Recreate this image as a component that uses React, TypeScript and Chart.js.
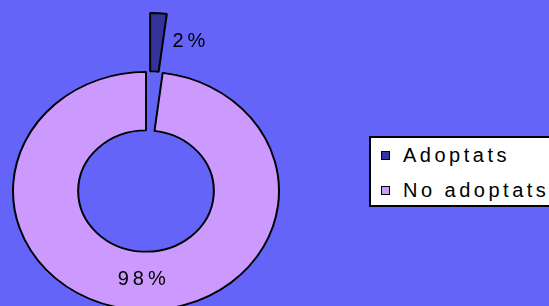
import React, { useEffect, useRef } from "react";
import { Chart, ArcElement, registerables } from "chart.js";

Chart.register(...registerables);

const categories = ["Adoptats", "No adoptats"];
const values = [2, 98];
const colors = ["#333399", "#CC99FF"];
const explode = [66, 0];

const BG = "#6464F8";
const FONT = '"Liberation Sans", Arial, sans-serif';
const SCALE_Y = 0.895;

// Explode a slice by moving it bodily along its mid angle (Excel style),
// instead of Chart.js' default quarter-offset + radius growth.
const baseArcDraw = (ArcElement.prototype as any).draw;
if (!(ArcElement.prototype as any).__exploded) {
  (ArcElement.prototype as any).__exploded = true;
  (ArcElement.prototype as any).draw = function (ctx: CanvasRenderingContext2D) {
    const o = this.options;
    const off = (o && o.offset) || 0;
    if (!off) return baseArcDraw.call(this, ctx);
    const half = (this.startAngle + this.endAngle) / 2;
    ctx.save();
    ctx.translate(Math.cos(half) * off, Math.sin(half) * off);
    this.options = Object.assign({}, o, { offset: 0 });
    try {
      baseArcDraw.call(this, ctx);
    } finally {
      this.options = o;
      ctx.restore();
    }
  };
}

export default function App() {
  const ref = useRef<HTMLCanvasElement>(null);

  useEffect(() => {
    const canvas = ref.current!;
    const squash = {
      id: "squash",
      beforeDatasetsDraw(chart: any) {
        const a = chart.getDatasetMeta(0).data[0];
        const ctx = chart.ctx;
        ctx.save();
        ctx.translate(a.x, a.y);
        ctx.scale(1, SCALE_Y);
        ctx.translate(-a.x, -a.y);
      },
      afterDatasetsDraw(chart: any) {
        chart.ctx.restore();
      },
    };
    const pctLabels = {
      id: "pctLabels",
      afterDraw(chart: any) {
        const ctx = chart.ctx;
        const meta = chart.getDatasetMeta(0);
        const total = values.reduce((s, v) => s + v, 0);
        ctx.save();
        ctx.font = `20px ${FONT}`;
        (ctx as any).letterSpacing = "4px";
        ctx.fillStyle = "#000";
        ctx.textBaseline = "middle";
        meta.data.forEach((arc: any, i: number) => {
          const p = arc.getProps(["x", "y", "startAngle", "endAngle", "innerRadius", "outerRadius"], true);
          const mid = (p.startAngle + p.endAngle) / 2;
          const off = explode[i];
          const r = (p.innerRadius + p.outerRadius) / 2 + off;
          let px = p.x + Math.cos(mid) * r;
          let py = p.y + Math.sin(mid) * r * SCALE_Y;
          const text = Math.round((values[i] / total) * 100) + "%";
          if (off > 0) {
            ctx.textAlign = "left";
            px += 16;
            py -= 1;
          } else {
            ctx.textAlign = "center";
            px += 4;
            py -= 1;
          }
          ctx.fillText(text, px, py);
        });
        ctx.restore();
      },
    };
    const chart = new Chart(canvas, {
      type: "doughnut",
      data: {
        labels: categories,
        datasets: [
          {
            data: values,
            backgroundColor: colors,
            borderColor: "#000",
            borderWidth: 2,
            offset: explode,
            hoverOffset: 0,
            clip: false,
          } as any,
        ],
      },
      options: {
        responsive: false,
        animation: false,
        events: [],
        radius: 133,
        cutout: "51%",
        layout: { padding: { left: 0, right: 257, top: 76, bottom: 0 } },
        plugins: { legend: { display: false }, tooltip: { enabled: false } },
      } as any,
      plugins: [squash, pctLabels],
    });
    return () => chart.destroy();
  }, []);

  return (
    <div
      style={{
        position: "fixed",
        left: 0,
        top: 0,
        width: 549,
        height: 306,
        background: BG,
        overflow: "hidden",
      }}
    >
      <canvas ref={ref} width={549} height={306} style={{ position: "absolute", left: 0, top: 0 }} />
      <div
        style={{
          position: "absolute",
          left: 369,
          top: 136,
          width: 200,
          height: 67,
          background: "#fff",
          border: "2px solid #000",
          fontFamily: FONT,
          fontSize: 20,
          letterSpacing: "3.5px",
          color: "#000",
        }}
      >
        {categories.map((c, i) => (
          <div
            key={c}
            style={{
              position: "absolute",
              left: 10,
              top: 5 + i * 35,
              height: 24,
              display: "flex",
              alignItems: "center",
              whiteSpace: "nowrap",
            }}
          >
            <span
              style={{
                display: "inline-block",
                width: 7,
                height: 7,
                background: colors[i],
                border: "1px solid #000",
                marginRight: 13,
              }}
            />
            <span>{c}</span>
          </div>
        ))}
      </div>
    </div>
  );
}
